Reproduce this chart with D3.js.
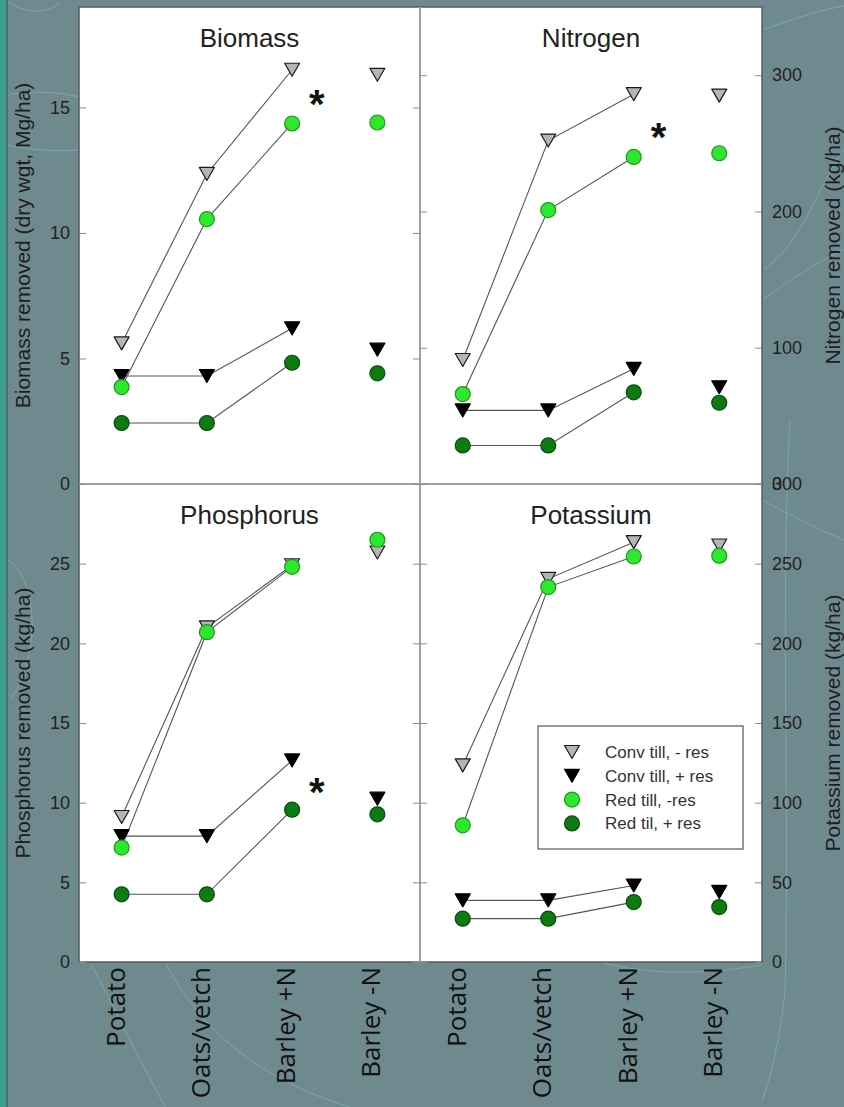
<!DOCTYPE html>
<html><head><meta charset="utf-8">
<script src="https://cdn.jsdelivr.net/npm/d3@7"></script>
<style>html,body{margin:0;padding:0;background:#6f8a8f;} svg{display:block}</style>
</head><body>
<svg id="chart" width="844" height="1107"></svg>
<script>
// ---------- data ----------
const categories = ["Potato", "Oats/vetch", "Barley +N", "Barley -N"];
const seriesLabels = ["Conv till, - res", "Conv till, + res", "Red till, -res", "Red til, + res"];
const panelTitles = ["Biomass", "Nitrogen", "Phosphorus", "Potassium"];
const axisTitles = ["Biomass removed (dry wgt, Mg/ha)", "Nitrogen removed (kg/ha)", "Phosphorus removed (kg/ha)", "Potassium removed (kg/ha)"];

const biomassConvMinus = [5.6, 12.35, 16.5, 16.3];
const biomassConvPlus  = [4.3, 4.3, 6.2, 5.35];
const biomassRedMinus  = [3.86, 10.55, 14.36, 14.4];
const biomassRedPlus   = [2.43, 2.43, 4.83, 4.41];

const nitrogenConvMinus = [91, 252, 286, 285];
const nitrogenConvPlus  = [54, 54, 84.5, 71];
const nitrogenRedMinus  = [66, 201, 240, 242.7];
const nitrogenRedPlus   = [28.3, 28.3, 67.3, 59.6];

const phosphorusConvMinus = [9.1, 21.0, 24.9, 25.7];
const phosphorusConvPlus  = [7.9, 7.9, 12.65, 10.25];
const phosphorusRedMinus  = [7.18, 20.7, 24.8, 26.5];
const phosphorusRedPlus   = [4.25, 4.25, 9.56, 9.27];

const potassiumConvMinus = [123.4, 240.5, 263.5, 261.4];
const potassiumConvPlus  = [38.7, 38.7, 48, 44];
const potassiumRedMinus  = [85.8, 235.3, 254.5, 255];
const potassiumRedPlus   = [27.2, 27.2, 37.6, 34.5];

const biomassTicks = [0, 5, 10, 15];
const nitrogenTicks = [0, 100, 200, 300];
const phosphorusTicks = [0, 5, 10, 15, 20, 25];
const potassiumTicks = [0, 50, 100, 150, 200, 250, 300];
const domainMax = [19, 350, 30, 300];
const asteriskValues = [15.4, 259.7, 11.1, null];
const connectedCategories = ["Potato", "Oats/vetch", "Barley +N"];

// ---------- layout & style ----------
const W = 844, H = 1107;
const L = 79, M = 420, R = 762, T = 7, MY = 484, B = 962;
const seriesStyle = [
  {shape: "tri", fill: "#b5b5b5", stroke: "#1a1a1a"},
  {shape: "tri", fill: "#000000", stroke: "#000000"},
  {shape: "circ", fill: "#2ee82e", stroke: "#1c9a1c"},
  {shape: "circ", fill: "#0d7a12", stroke: "#0a4d0c"}
];
const sansFont = "'Liberation Sans', Arial, sans-serif";

const panels = [
  {values: [biomassConvMinus, biomassConvPlus, biomassRedMinus, biomassRedPlus], ticks: biomassTicks, x0: L, x1: M, y0: T, y1: MY, side: "left"},
  {values: [nitrogenConvMinus, nitrogenConvPlus, nitrogenRedMinus, nitrogenRedPlus], ticks: nitrogenTicks, x0: M, x1: R, y0: T, y1: MY, side: "right"},
  {values: [phosphorusConvMinus, phosphorusConvPlus, phosphorusRedMinus, phosphorusRedPlus], ticks: phosphorusTicks, x0: L, x1: M, y0: MY, y1: B, side: "left"},
  {values: [potassiumConvMinus, potassiumConvPlus, potassiumRedMinus, potassiumRedPlus], ticks: potassiumTicks, x0: M, x1: R, y0: MY, y1: B, side: "right"}
];

const svg = d3.select("#chart");

// background
svg.append("rect").attr("width", W).attr("height", H).attr("fill", "#6f8a8f");
svg.append("rect").attr("x", 0).attr("y", 0).attr("width", 6).attr("height", H).attr("fill", "#3f9e8c");
svg.append("rect").attr("x", 6).attr("y", 0).attr("width", 2).attr("height", H).attr("fill", "#4a6f72");
const deco = svg.append("g").attr("fill", "none").attr("stroke", "#8cc8c8").attr("stroke-opacity", 0.45).attr("stroke-width", 1);
[
  "M8,2 C25,14 50,14 60,2",
  "M8,95 C30,90 60,92 79,97",
  "M8,145 C30,150 60,152 79,150",
  "M8,560 C40,580 40,660 10,700",
  "M90,962 C110,1000 140,1060 165,1107",
  "M165,962 C200,1030 260,1080 350,1107",
  "M600,962 C650,975 700,975 762,965",
  "M790,420 C780,600 790,800 785,990 C780,1040 770,1080 762,1100",
  "M762,30 C790,20 820,10 844,6",
  "M762,300 C790,280 820,260 844,250",
  "M762,270 C800,250 820,180 844,150",
  "M762,500 C800,520 820,530 844,540"
].forEach(d => deco.append("path").attr("d", d));

// plot frame
svg.append("rect").attr("x", L).attr("y", T).attr("width", R - L).attr("height", B - T)
  .attr("fill", "#ffffff").attr("stroke", "#5a5a5a").attr("stroke-width", 1.5);
svg.append("line").attr("x1", M).attr("x2", M).attr("y1", T).attr("y2", B).attr("stroke", "#a0a0a0").attr("stroke-width", 2);
svg.append("line").attr("x1", L).attr("x2", R).attr("y1", MY).attr("y2", MY).attr("stroke", "#a0a0a0").attr("stroke-width", 2);

const triPath = "M-7.5,-6.5L7.5,-6.5L0,6.5Z";

function drawMarker(g, style, x, y) {
  if (style.shape === "tri") {
    g.append("path").attr("d", triPath).attr("transform", `translate(${x},${y})`)
      .attr("fill", style.fill).attr("stroke", style.stroke).attr("stroke-width", 1.2).attr("stroke-linejoin", "round");
  } else {
    g.append("circle").attr("cx", x).attr("cy", y).attr("r", 7.5)
      .attr("fill", style.fill).attr("stroke", style.stroke).attr("stroke-width", 1.2);
  }
}

panels.forEach((p, pi) => {
  const x = d3.scalePoint().domain(categories).range([p.x0, p.x1]).padding(0.5);
  const y = d3.scaleLinear().domain([0, domainMax[pi]]).range([p.y1, p.y0]);
  const g = svg.append("g");

  // inner ticks on both vertical borders
  const leftAxis = d3.axisRight(y).tickValues(p.ticks).tickSize(7).tickFormat("");
  const rightAxis = d3.axisLeft(y).tickValues(p.ticks).tickSize(7).tickFormat("");
  [g.append("g").attr("transform", `translate(${p.x0},0)`).call(leftAxis),
   g.append("g").attr("transform", `translate(${p.x1},0)`).call(rightAxis)].forEach(a => {
    a.select(".domain").remove();
    a.selectAll("line").attr("stroke", "#8a8a8a").attr("stroke-width", 1);
  });

  // outer tick labels
  const labelAxis = (p.side === "left" ? d3.axisLeft(y) : d3.axisRight(y))
    .tickValues(p.ticks).tickSize(0).tickPadding(p.side === "left" ? 9 : 10);
  const la = g.append("g").attr("transform", `translate(${p.side === "left" ? L : R},0)`).call(labelAxis);
  la.select(".domain").remove();
  la.selectAll("text").attr("font-family", sansFont).attr("font-size", 18).attr("fill", "#222");

  // axis title
  const ax = p.side === "left" ? 23 : 833;
  const ay = (p.y0 + p.y1) / 2;
  g.append("text").attr("transform", `translate(${ax},${ay}) rotate(-90)`)
    .attr("text-anchor", "middle").attr("dy", "0.35em")
    .attr("font-family", sansFont).attr("font-size", 21).attr("fill", "#1e1e1e")
    .text(axisTitles[pi]);

  // panel title
  g.append("text").attr("x", (p.x0 + p.x1) / 2).attr("y", p.y0 + 40)
    .attr("text-anchor", "middle").attr("font-family", sansFont).attr("font-size", 26).attr("fill", "#222")
    .text(panelTitles[pi]);

  // connecting lines
  const line = d3.line().x(d => x(d.c)).y(d => y(d.v));
  p.values.forEach(vals => {
    const pts = connectedCategories.map(c => ({c, v: vals[categories.indexOf(c)]}));
    g.append("path").attr("d", line(pts)).attr("fill", "none").attr("stroke", "#555").attr("stroke-width", 1.1);
  });

  // markers
  p.values.forEach((vals, si) => {
    vals.forEach((v, ci) => drawMarker(g, seriesStyle[si], x(categories[ci]), y(v)));
  });

  // asterisk
  if (asteriskValues[pi] != null) {
    g.append("text").attr("x", x("Barley +N") + x.step() * 0.29).attr("y", y(asteriskValues[pi]))
      .attr("dy", "0.52em").attr("text-anchor", "middle")
      .attr("font-family", sansFont).attr("font-weight", "bold").attr("font-size", 40).attr("fill", "#111")
      .text("*");
  }

  // category labels (bottom panels)
  if (p.y1 === B) {
    g.selectAll("text.cat").data(categories).join("text").attr("class", "cat")
      .attr("transform", d => `translate(${x(d) + 3},967) rotate(-90)`)
      .attr("text-anchor", "end")
      .attr("font-family", "'Open Sans', sans-serif").attr("font-size", 26).attr("fill", "#111")
      .text(d => d);
  }
});

// legend
const lg = svg.append("g");
lg.append("rect").attr("x", 538).attr("y", 726).attr("width", 205).attr("height", 123)
  .attr("fill", "#fff").attr("stroke", "#555").attr("stroke-width", 1.2);
seriesLabels.forEach((s, i) => {
  const yy = 752 + i * 23.8;
  drawMarker(lg, seriesStyle[i], 572, yy);
  lg.append("text").attr("x", 605).attr("y", yy).attr("dy", "0.35em")
    .attr("font-family", sansFont).attr("font-size", 17).attr("fill", "#333").text(s);
});
</script>
</body></html>
